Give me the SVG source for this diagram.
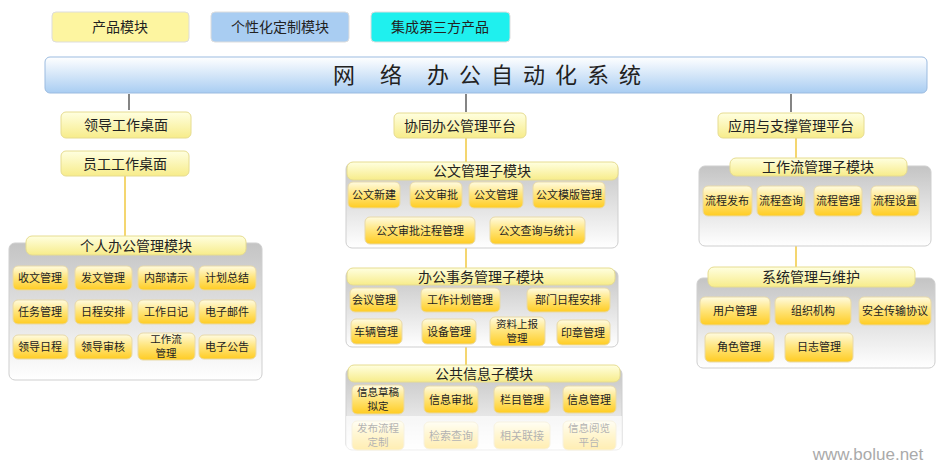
<svg xmlns="http://www.w3.org/2000/svg" width="946" height="463" viewBox="0 0 946 463">
<defs>
<linearGradient id="gi" x1="0" y1="0" x2="0" y2="1"><stop offset="0" stop-color="#fffbe0"/><stop offset="0.45" stop-color="#ffe680"/><stop offset="1" stop-color="#ffcc22"/></linearGradient>
<linearGradient id="gc" x1="0" y1="0" x2="0" y2="1"><stop offset="0" stop-color="#c4c4c4"/><stop offset="1" stop-color="#ffffff"/></linearGradient>
<linearGradient id="gt" x1="0" y1="0" x2="0" y2="1"><stop offset="0" stop-color="#ffffff"/><stop offset="1" stop-color="#a9cdf2"/></linearGradient>
<linearGradient id="gp" x1="0" y1="0" x2="0" y2="1"><stop offset="0" stop-color="#ffffe0"/><stop offset="1" stop-color="#f7ec8a"/></linearGradient>
</defs>
<style>
text{font-family:"Noto Sans CJK SC","Liberation Sans",sans-serif;fill:#222;text-anchor:middle}
.it{fill:url(#gi);stroke:#e8d9a8;stroke-width:1}
.ct{fill:url(#gc);stroke:#cfcfcf;stroke-width:1}
.pl{fill:url(#gp);stroke:#e6dc90;stroke-width:1}
.s{font-size:11px}
.d{font-size:10.5px}
.m{font-size:14px}
.ln{stroke:#333;stroke-width:1.2}
.yl{stroke:#f0c840;stroke-width:1.5}
</style>
<g id="legend">
<rect x="52" y="12" width="137" height="30" rx="4" fill="#fdf5a0" stroke="#ddd"/><text x="120" y="32" class="m">产品模块</text>
<rect x="211" y="12" width="138" height="30" rx="4" fill="#a9cdf2" stroke="#ddd"/><text x="280" y="32" class="m">个性化定制模块</text>
<rect x="371" y="12" width="139" height="30" rx="4" fill="#1ff0ee" stroke="#ddd"/><text x="440" y="32" class="m">集成第三方产品</text>
</g>
<g id="title">
<rect x="45" y="57" width="882" height="36" rx="5" fill="url(#gt)" stroke="#9bbbe0"/>
<text x="492" y="83" font-size="22" letter-spacing="10">网 络 办公自动化系统</text>
</g>
<g id="connectors">
<line class="ln" x1="129" y1="94" x2="129" y2="110"/>
<line class="ln" x1="466" y1="94" x2="466" y2="112"/>
<line class="ln" x1="791" y1="94" x2="791" y2="112"/>
<line class="yl" x1="125" y1="176" x2="125" y2="237"/>
<line class="yl" x1="466" y1="138" x2="466" y2="162"/>
<line class="yl" x1="466" y1="248" x2="466" y2="268"/>
<line class="yl" x1="466" y1="347" x2="466" y2="366"/>
<line class="yl" x1="796" y1="138" x2="796" y2="158"/>
<line class="yl" x1="796" y1="246" x2="796" y2="267"/>
</g>
<g id="leftTop">
<rect class="pl" x="61" y="112" width="130" height="26" rx="5"/><text x="126" y="130" class="m">领导工作桌面</text>
<rect class="pl" x="61" y="151" width="128" height="25" rx="5"/><text x="125" y="169" class="m">员工工作桌面</text>
</g>
<g id="personal">
<rect class="ct" x="9" y="243" width="253" height="137" rx="6"/>
<rect class="pl" x="26" y="236" width="220" height="19" rx="6"/><text x="136" y="251" class="m">个人办公管理模块</text>
<rect class="it" x="13" y="266" width="55" height="24" rx="5"/><text x="40" y="282" class="s">收文管理</text>
<rect class="it" x="75" y="266" width="57" height="24" rx="5"/><text x="103" y="282" class="s">发文管理</text>
<rect class="it" x="138" y="266" width="57" height="24" rx="5"/><text x="166" y="282" class="s">内部请示</text>
<rect class="it" x="199" y="266" width="57" height="24" rx="5"/><text x="227" y="282" class="s">计划总结</text>
<rect class="it" x="13" y="300" width="55" height="24" rx="5"/><text x="40" y="316" class="s">任务管理</text>
<rect class="it" x="75" y="300" width="57" height="24" rx="5"/><text x="103" y="316" class="s">日程安排</text>
<rect class="it" x="138" y="300" width="57" height="24" rx="5"/><text x="166" y="316" class="s">工作日记</text>
<rect class="it" x="199" y="300" width="57" height="24" rx="5"/><text x="227" y="316" class="s">电子邮件</text>
<rect class="it" x="13" y="335" width="55" height="24" rx="5"/><text x="40" y="351" class="s">领导日程</text>
<rect class="it" x="75" y="335" width="57" height="24" rx="5"/><text x="103" y="351" class="s">领导审核</text>
<rect class="it" x="138" y="333" width="57" height="27" rx="5"/><text x="166" y="343" class="d">工作流</text><text x="166" y="357" class="d">管理</text>
<rect class="it" x="199" y="335" width="57" height="24" rx="5"/><text x="227" y="351" class="s">电子公告</text>
</g>
<g id="center">
<rect class="pl" x="394" y="113" width="132" height="25" rx="5"/><text x="460" y="131" class="m">协同办公管理平台</text>
</g>
<g id="doc">
<rect class="ct" x="346" y="163" width="272" height="85" rx="6"/>
<rect class="pl" x="347" y="162" width="271" height="18" rx="6"/><text x="482" y="176" class="m">公文管理子模块</text>
<rect class="it" x="348" y="182" width="52" height="26" rx="5"/><text x="374" y="199" class="s">公文新建</text>
<rect class="it" x="410" y="182" width="52" height="26" rx="5"/><text x="436" y="199" class="s">公文审批</text>
<rect class="it" x="469" y="182" width="54" height="26" rx="5"/><text x="496" y="199" class="s">公文管理</text>
<rect class="it" x="533" y="182" width="72" height="26" rx="5"/><text x="569" y="199" class="s">公文模版管理</text>
<rect class="it" x="365" y="217" width="110" height="27" rx="5"/><text x="420" y="235" class="s">公文审批注程管理</text>
<rect class="it" x="490" y="217" width="95" height="27" rx="5"/><text x="537" y="235" class="s">公文查询与统计</text>
</g>
<g id="affairs">
<rect class="ct" x="346" y="270" width="272" height="77" rx="6"/>
<rect class="pl" x="347" y="268" width="268" height="17" rx="6"/><text x="481" y="282" class="m">办公事务管理子模块</text>
<rect class="it" x="350" y="288" width="48" height="24" rx="5"/><text x="374" y="304" class="s">会议管理</text>
<rect class="it" x="421" y="288" width="79" height="24" rx="5"/><text x="460" y="304" class="s">工作计划管理</text>
<rect class="it" x="527" y="288" width="83" height="24" rx="5"/><text x="568" y="304" class="s">部门日程安排</text>
<rect class="it" x="351" y="319" width="51" height="25" rx="5"/><text x="376" y="336" class="s">车辆管理</text>
<rect class="it" x="422" y="319" width="54" height="25" rx="5"/><text x="449" y="336" class="s">设备管理</text>
<rect class="it" x="490" y="317" width="55" height="29" rx="5"/><text x="517" y="328" class="d">资料上报</text><text x="517" y="342" class="d">管理</text>
<rect class="it" x="557" y="320" width="53" height="25" rx="5"/><text x="583" y="337" class="s">印章管理</text>
</g>
<g id="public">
<rect class="ct" x="346" y="368" width="276" height="82" rx="6"/>
<rect class="pl" x="348" y="365" width="272" height="17" rx="6"/><text x="484" y="379" class="m">公共信息子模块</text>
<rect class="it" x="352" y="385" width="52" height="29" rx="5"/><text x="378" y="396" class="d">信息草稿</text><text x="378" y="410" class="d">拟定</text>
<rect class="it" x="424" y="386" width="54" height="27" rx="5"/><text x="451" y="404" class="s">信息审批</text>
<rect class="it" x="494" y="386" width="56" height="27" rx="5"/><text x="522" y="404" class="s">栏目管理</text>
<rect class="it" x="563" y="386" width="53" height="27" rx="5"/><text x="589" y="404" class="s">信息管理</text>
<rect class="it" x="352" y="421" width="52" height="29" rx="5"/><text x="378" y="432" class="d">发布流程</text><text x="378" y="446" class="d">定制</text>
<rect class="it" x="424" y="422" width="54" height="27" rx="5"/><text x="451" y="440" class="s">检索查询</text>
<rect class="it" x="494" y="422" width="56" height="27" rx="5"/><text x="522" y="440" class="s">相关联接</text>
<rect class="it" x="563" y="421" width="53" height="29" rx="5"/><text x="589" y="432" class="d">信息阅览</text><text x="589" y="446" class="d">平台</text>
<rect x="346" y="416" width="276" height="36" fill="#fff" opacity="0.65"/>
</g>
<g id="right">
<rect class="pl" x="718" y="113" width="146" height="25" rx="5"/><text x="791" y="131" class="m">应用与支撑管理平台</text>
</g>
<g id="workflow">
<rect class="ct" x="699" y="166" width="232" height="80" rx="6"/>
<rect class="pl" x="730" y="158" width="177" height="18" rx="6"/><text x="818" y="172" class="m">工作流管理子模块</text>
<rect class="it" x="703" y="186" width="49" height="30" rx="5"/><text x="727" y="205" class="s">流程发布</text>
<rect class="it" x="757" y="186" width="48" height="30" rx="5"/><text x="781" y="205" class="s">流程查询</text>
<rect class="it" x="814" y="186" width="48" height="30" rx="5"/><text x="838" y="205" class="s">流程管理</text>
<rect class="it" x="871" y="186" width="48" height="30" rx="5"/><text x="895" y="205" class="s">流程设置</text>
</g>
<g id="sysmgmt">
<rect class="ct" x="697" y="278" width="238" height="90" rx="6"/>
<rect class="pl" x="708" y="267" width="207" height="20" rx="6"/><text x="811" y="282" class="m">系统管理与维护</text>
<rect class="it" x="700" y="297" width="70" height="28" rx="5"/><text x="735" y="315" class="s">用户管理</text>
<rect class="it" x="775" y="297" width="76" height="28" rx="5"/><text x="813" y="315" class="s">组织机构</text>
<rect class="it" x="859" y="297" width="72" height="28" rx="5"/><text x="895" y="315" class="s">安全传输协议</text>
<rect class="it" x="705" y="333" width="69" height="29" rx="5"/><text x="739" y="351" class="s">角色管理</text>
<rect class="it" x="785" y="333" width="68" height="29" rx="5"/><text x="819" y="351" class="s">日志管理</text>
</g>
<text x="868" y="460" font-size="17" style="fill:#aaa;font-family:'Liberation Sans',sans-serif">www.bolue.net</text>
</svg>
